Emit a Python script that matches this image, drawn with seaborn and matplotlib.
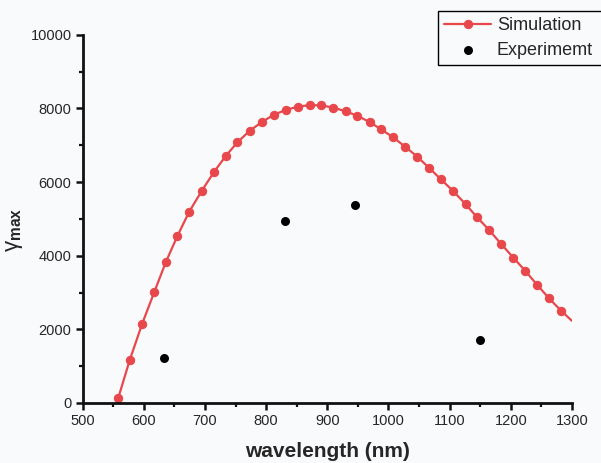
import matplotlib
matplotlib.use("Agg")
import matplotlib.pyplot as plt
from matplotlib.ticker import MultipleLocator
import seaborn as sns

# simulated gamma_max vs wavelength
sim_wl = [558, 577, 597, 617, 636, 655, 674, 695, 715, 734, 753, 773, 793, 812,
          832, 852, 871, 890, 910, 930, 949, 969, 988, 1008, 1027, 1047, 1066,
          1086, 1106, 1126, 1145, 1165, 1184, 1204, 1224, 1243, 1262, 1282, 1300]
sim_gamma = [130, 1170, 2140, 3010, 3830, 4540, 5190, 5770, 6280, 6710, 7080, 7390,
             7630, 7820, 7960, 8045, 8090, 8080, 8020, 7920, 7800, 7630, 7430, 7210,
             6960, 6690, 6390, 6070, 5750, 5400, 5040, 4690, 4320, 3950, 3580, 3210,
             2850, 2510, 2230]
n_markers = 38  # the last line point has no marker

# measured points
exp_wl = [633, 830, 945, 1150]
exp_gamma = [1215, 4950, 5365, 1720]

sim_color = "#e8484b"

sns.set_theme(style="ticks")
plt.rcParams["font.family"] = ["Liberation Sans", "DejaVu Sans"]
plt.rcParams["mathtext.fontset"] = "custom"
plt.rcParams["mathtext.rm"] = "Liberation Sans"
plt.rcParams["mathtext.bf"] = "Liberation Sans:bold"
plt.rcParams["mathtext.it"] = "Liberation Sans:italic"

fig = plt.figure(figsize=(6.01, 4.63), dpi=100, facecolor="#f9fafc")
ax = fig.add_axes([0.1376, 0.1296, 0.8141, 0.7954])
ax.set_facecolor("#f9fafc")

sns.lineplot(x=sim_wl, y=sim_gamma, ax=ax, color=sim_color, linewidth=1.6,
             marker="o", markersize=6, markeredgecolor=sim_color,
             markevery=list(range(n_markers)), label="Simulation", sort=False)
sns.scatterplot(x=exp_wl, y=exp_gamma, ax=ax, color="black", s=42,
                edgecolor="black", linewidth=0, label="Experimemt", zorder=3)

ax.set_xlim(500, 1300)
ax.set_ylim(0, 10000)
ax.xaxis.set_major_locator(MultipleLocator(100))
ax.xaxis.set_minor_locator(MultipleLocator(50))
ax.yaxis.set_major_locator(MultipleLocator(2000))
ax.yaxis.set_minor_locator(MultipleLocator(1000))

sns.despine(ax=ax)
for side in ["left", "bottom"]:
    ax.spines[side].set_linewidth(2)
    ax.spines[side].set_color("#111111")
ax.tick_params(which="major", length=5, width=1.8, labelsize=10.5,
               color="#111111", pad=3)
ax.tick_params(which="minor", length=3, width=1.6, color="#111111")

ax.set_xlabel("wavelength (nm)", fontsize=15, fontweight="bold", labelpad=10)
ax.set_ylabel(r"γ$_{\mathbf{max}}$", fontsize=16)
ax.yaxis.set_label_coords(-0.118, 0.47)

leg = ax.legend(loc="upper left", bbox_to_anchor=(0.729, 0.5, 0.29, 0.477),
                bbox_transform=fig.transFigure, mode="expand", fontsize=13,
                frameon=True, fancybox=False, edgecolor="black", framealpha=1,
                facecolor="#f9fafc", handlelength=2.6, handletextpad=0.3,
                borderpad=0.35, borderaxespad=0, labelspacing=0.45)
leg.get_frame().set_linewidth(1)

fig.savefig("out.png", dpi=100, facecolor=fig.get_facecolor())
